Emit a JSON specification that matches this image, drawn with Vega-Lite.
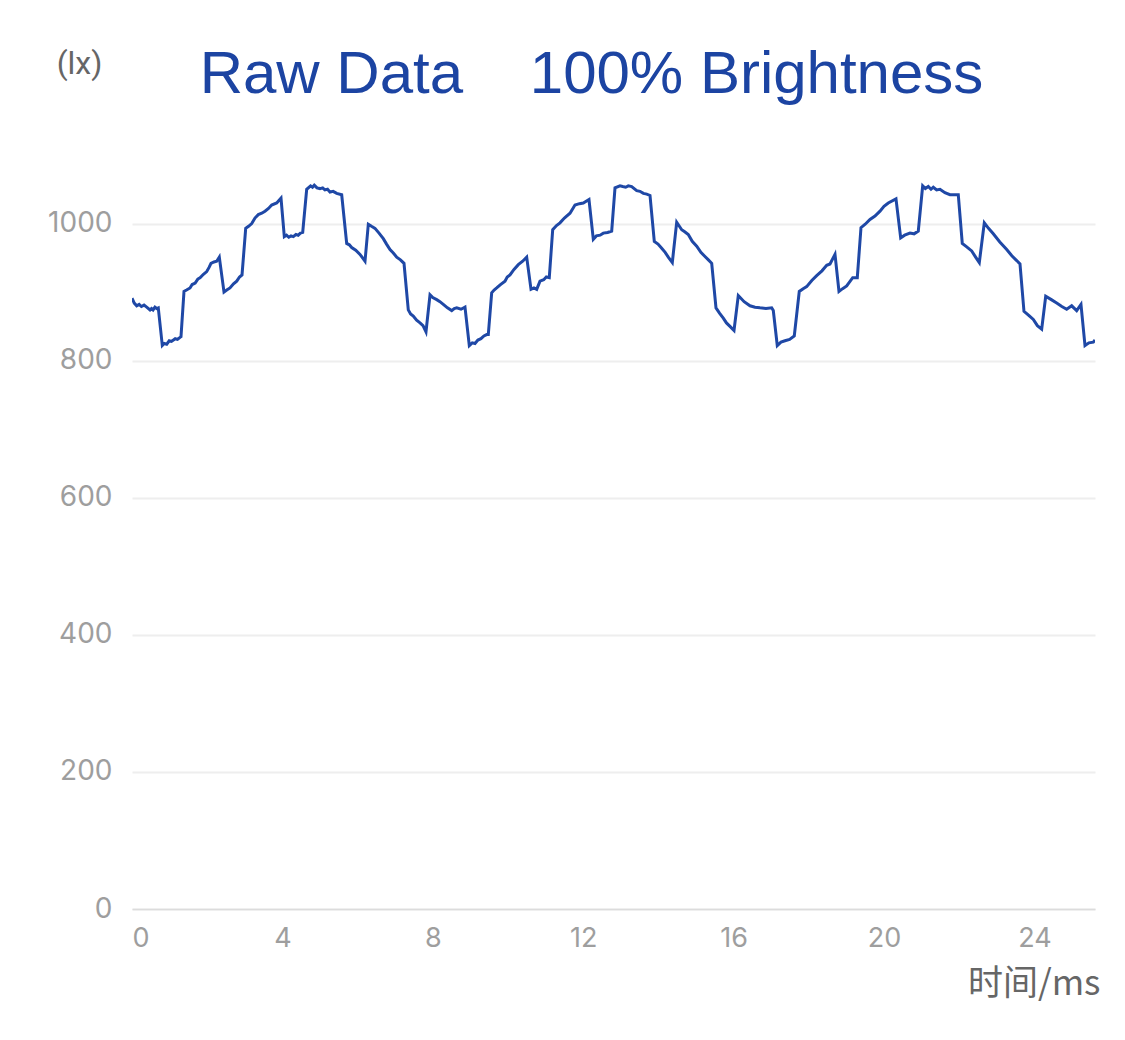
{
  "$schema": "https://vega.github.io/schema/vega-lite/v6.json",
  "autosize": {"type": "none"},
  "padding": {"left": 132, "top": 155, "right": 30, "bottom": 131},
  "width": 963,
  "height": 754,
  "background": "white",
  "title": {
    "text": "Raw Data\u00a0\u00a0\u00a0\u00a0100% Brightness",
    "font": "Liberation Sans",
    "fontSize": 60,
    "fontWeight": "normal",
    "color": "#1c44a2",
    "anchor": "middle",
    "frame": "group",
    "baseline": "alphabetic",
    "dx": -22,
    "offset": 0,
    "dy": 106
  },
  "data": {
    "values": [
      {"t": 0.000, "v": 891}, {"t": 0.06, "v": 884}, {"t": 0.125, "v": 880}, {"t": 0.19, "v": 882}, {"t": 0.25, "v": 879}, {"t": 0.32, "v": 881}, {"t": 0.391, "v": 878},
      {"t": 0.479, "v": 874}, {"t": 0.52, "v": 876}, {"t": 0.56, "v": 874}, {"t": 0.61, "v": 878}, {"t": 0.657, "v": 876}, {"t": 0.699, "v": 877},
      {"t": 0.806, "v": 822}, {"t": 0.86, "v": 825}, {"t": 0.923, "v": 824}, {"t": 0.99, "v": 829}, {"t": 1.05, "v": 828}, {"t": 1.15, "v": 832}, {"t": 1.21, "v": 831}, {"t": 1.277, "v": 834}, {"t": 1.303, "v": 835},
      {"t": 1.383, "v": 901}, {"t": 1.45, "v": 903}, {"t": 1.543, "v": 906}, {"t": 1.6, "v": 911}, {"t": 1.68, "v": 913}, {"t": 1.75, "v": 919}, {"t": 1.809, "v": 921}, {"t": 1.9, "v": 926}, {"t": 1.987, "v": 930},
      {"t": 2.05, "v": 936}, {"t": 2.101, "v": 942}, {"t": 2.18, "v": 944}, {"t": 2.253, "v": 945}, {"t": 2.322, "v": 951},
      {"t": 2.447, "v": 900}, {"t": 2.52, "v": 903}, {"t": 2.606, "v": 906}, {"t": 2.7, "v": 912}, {"t": 2.785, "v": 916}, {"t": 2.86, "v": 922}, {"t": 2.926, "v": 925},
      {"t": 3.024, "v": 993}, {"t": 3.1, "v": 996}, {"t": 3.184, "v": 1000}, {"t": 3.27, "v": 1008}, {"t": 3.359, "v": 1013}, {"t": 3.45, "v": 1015}, {"t": 3.537, "v": 1018},
      {"t": 3.63, "v": 1022}, {"t": 3.715, "v": 1027}, {"t": 3.848, "v": 1030}, {"t": 3.963, "v": 1037},
      {"t": 4.051, "v": 981}, {"t": 4.11, "v": 983}, {"t": 4.17, "v": 980}, {"t": 4.23, "v": 982}, {"t": 4.290, "v": 981}, {"t": 4.36, "v": 984}, {"t": 4.42, "v": 983}, {"t": 4.48, "v": 986}, {"t": 4.540, "v": 987},
      {"t": 4.646, "v": 1050}, {"t": 4.75, "v": 1055}, {"t": 4.8, "v": 1053}, {"t": 4.848, "v": 1056}, {"t": 4.92, "v": 1052}, {"t": 5.000, "v": 1051},
      {"t": 5.07, "v": 1052}, {"t": 5.13, "v": 1049}, {"t": 5.2, "v": 1050}, {"t": 5.266, "v": 1046}, {"t": 5.35, "v": 1047}, {"t": 5.444, "v": 1044}, {"t": 5.577, "v": 1042},
      {"t": 5.710, "v": 971}, {"t": 5.78, "v": 969}, {"t": 5.843, "v": 965}, {"t": 5.95, "v": 961}, {"t": 6.064, "v": 955}, {"t": 6.197, "v": 945},
      {"t": 6.285, "v": 999}, {"t": 6.37, "v": 996}, {"t": 6.463, "v": 993}, {"t": 6.57, "v": 986}, {"t": 6.684, "v": 978}, {"t": 6.77, "v": 970}, {"t": 6.862, "v": 962},
      {"t": 6.95, "v": 957}, {"t": 7.040, "v": 951}, {"t": 7.14, "v": 947}, {"t": 7.234, "v": 942},
      {"t": 7.348, "v": 874}, {"t": 7.41, "v": 868}, {"t": 7.481, "v": 865}, {"t": 7.57, "v": 859}, {"t": 7.660, "v": 855}, {"t": 7.74, "v": 851}, {"t": 7.819, "v": 842},
      {"t": 7.926, "v": 896}, {"t": 8.0, "v": 892}, {"t": 8.104, "v": 889}, {"t": 8.19, "v": 886}, {"t": 8.279, "v": 882}, {"t": 8.39, "v": 877}, {"t": 8.503, "v": 873},
      {"t": 8.57, "v": 876}, {"t": 8.636, "v": 877}, {"t": 8.75, "v": 875}, {"t": 8.856, "v": 878},
      {"t": 8.971, "v": 822}, {"t": 9.05, "v": 826}, {"t": 9.122, "v": 825}, {"t": 9.2, "v": 830}, {"t": 9.28, "v": 832}, {"t": 9.36, "v": 836}, {"t": 9.434, "v": 838}, {"t": 9.476, "v": 838},
      {"t": 9.566, "v": 899}, {"t": 9.63, "v": 903}, {"t": 9.699, "v": 906}, {"t": 9.8, "v": 911}, {"t": 9.920, "v": 916}, {"t": 9.98, "v": 922}, {"t": 10.053, "v": 925},
      {"t": 10.16, "v": 933}, {"t": 10.274, "v": 940}, {"t": 10.39, "v": 945}, {"t": 10.497, "v": 951},
      {"t": 10.612, "v": 904}, {"t": 10.69, "v": 906}, {"t": 10.763, "v": 904}, {"t": 10.851, "v": 916}, {"t": 10.95, "v": 918}, {"t": 11.02, "v": 922}, {"t": 11.098, "v": 921},
      {"t": 11.189, "v": 991}, {"t": 11.29, "v": 997}, {"t": 11.383, "v": 1001}, {"t": 11.5, "v": 1008}, {"t": 11.649, "v": 1015}, {"t": 11.782, "v": 1027},
      {"t": 11.9, "v": 1029}, {"t": 12.003, "v": 1030}, {"t": 12.154, "v": 1035},
      {"t": 12.269, "v": 977}, {"t": 12.35, "v": 982}, {"t": 12.45, "v": 983}, {"t": 12.535, "v": 986}, {"t": 12.65, "v": 987}, {"t": 12.758, "v": 989},
      {"t": 12.846, "v": 1052}, {"t": 12.979, "v": 1055}, {"t": 13.05, "v": 1054}, {"t": 13.13, "v": 1053}, {"t": 13.2, "v": 1055}, {"t": 13.290, "v": 1054},
      {"t": 13.423, "v": 1048}, {"t": 13.51, "v": 1047}, {"t": 13.6, "v": 1044}, {"t": 13.69, "v": 1043}, {"t": 13.777, "v": 1041},
      {"t": 13.891, "v": 974}, {"t": 13.99, "v": 970}, {"t": 14.088, "v": 964}, {"t": 14.18, "v": 958}, {"t": 14.263, "v": 951}, {"t": 14.370, "v": 943},
      {"t": 14.487, "v": 1002}, {"t": 14.620, "v": 991}, {"t": 14.7, "v": 988}, {"t": 14.795, "v": 984}, {"t": 14.9, "v": 974}, {"t": 15.019, "v": 967},
      {"t": 15.13, "v": 958}, {"t": 15.239, "v": 952}, {"t": 15.33, "v": 947}, {"t": 15.418, "v": 942},
      {"t": 15.532, "v": 877}, {"t": 15.63, "v": 869}, {"t": 15.726, "v": 862}, {"t": 15.81, "v": 855}, {"t": 15.904, "v": 850}, {"t": 16.011, "v": 844},
      {"t": 16.125, "v": 895}, {"t": 16.28, "v": 886}, {"t": 16.436, "v": 880}, {"t": 16.57, "v": 878}, {"t": 16.702, "v": 877}, {"t": 16.86, "v": 876}, {"t": 17.013, "v": 877}, {"t": 17.056, "v": 873},
      {"t": 17.162, "v": 822}, {"t": 17.26, "v": 827}, {"t": 17.367, "v": 829}, {"t": 17.49, "v": 831}, {"t": 17.614, "v": 836},
      {"t": 17.747, "v": 901}, {"t": 17.85, "v": 905}, {"t": 17.944, "v": 908}, {"t": 18.08, "v": 917}, {"t": 18.210, "v": 924}, {"t": 18.35, "v": 931}, {"t": 18.476, "v": 939},
      {"t": 18.564, "v": 941}, {"t": 18.697, "v": 955},
      {"t": 18.803, "v": 901}, {"t": 18.9, "v": 905}, {"t": 19.008, "v": 909}, {"t": 19.168, "v": 921}, {"t": 19.290, "v": 921},
      {"t": 19.388, "v": 994}, {"t": 19.5, "v": 999}, {"t": 19.628, "v": 1006}, {"t": 19.76, "v": 1011}, {"t": 19.894, "v": 1018}, {"t": 20.0, "v": 1025}, {"t": 20.114, "v": 1030}, {"t": 20.319, "v": 1036},
      {"t": 20.444, "v": 979}, {"t": 20.55, "v": 983}, {"t": 20.691, "v": 986}, {"t": 20.8, "v": 985}, {"t": 20.912, "v": 989},
      {"t": 21.029, "v": 1055}, {"t": 21.1, "v": 1051}, {"t": 21.178, "v": 1054}, {"t": 21.25, "v": 1050}, {"t": 21.311, "v": 1053}, {"t": 21.4, "v": 1049}, {"t": 21.489, "v": 1050},
      {"t": 21.62, "v": 1045}, {"t": 21.755, "v": 1042}, {"t": 21.976, "v": 1042},
      {"t": 22.082, "v": 971}, {"t": 22.2, "v": 966}, {"t": 22.332, "v": 960}, {"t": 22.45, "v": 950}, {"t": 22.535, "v": 943},
      {"t": 22.668, "v": 1001}, {"t": 22.78, "v": 993}, {"t": 22.907, "v": 985}, {"t": 23.08, "v": 973}, {"t": 23.264, "v": 962}, {"t": 23.4, "v": 953}, {"t": 23.529, "v": 946}, {"t": 23.617, "v": 941},
      {"t": 23.723, "v": 872}, {"t": 23.85, "v": 866}, {"t": 23.971, "v": 860}, {"t": 24.08, "v": 851}, {"t": 24.194, "v": 846},
      {"t": 24.301, "v": 894}, {"t": 24.45, "v": 889}, {"t": 24.593, "v": 884}, {"t": 24.73, "v": 879}, {"t": 24.859, "v": 875}, {"t": 24.992, "v": 880},
      {"t": 25.125, "v": 873}, {"t": 25.239, "v": 882},
      {"t": 25.346, "v": 822}, {"t": 25.45, "v": 826}, {"t": 25.566, "v": 827}, {"t": 25.612, "v": 830}
    ]
  },
  "mark": {"type": "line", "color": "#1f48a6", "strokeWidth": 3, "clip": true},
  "encoding": {
    "x": {
      "field": "t",
      "type": "quantitative",
      "scale": {"domain": [0, 25.612], "nice": false, "zero": false},
      "axis": {
        "values": [0, 4, 8, 12, 16, 20, 24],
        "labelFlush": true,
        "grid": false,
        "domain": true,
        "domainColor": "#dcdcdc",
        "domainWidth": 1.5,
        "ticks": false,
        "labelColor": "#9e9e9e",
        "labelFont": "Inter",
        "labelFontSize": 27,
        "labelPadding": 16,
        "title": "时间/ms",
        "titleFont": "Noto Sans CJK SC",
        "titleFontSize": 35,
        "titleFontWeight": "normal",
        "titleColor": "#666666",
        "titleAlign": "right",
        "titleAnchor": null,
        "titleBaseline": "alphabetic",
        "titleX": 968,
        "titleY": 85
      }
    },
    "y": {
      "field": "v",
      "type": "quantitative",
      "scale": {"domain": [0, 1100], "nice": false},
      "axis": {
        "values": [0, 200, 400, 600, 800, 1000],
        "format": "d",
        "grid": true,
        "gridColor": "#eeeeee",
        "gridWidth": 2,
        "domain": false,
        "ticks": false,
        "labelColor": "#9e9e9e",
        "labelFont": "Inter",
        "labelFontSize": 28,
        "labelPadding": 20,
        "title": "(lx)",
        "titleFont": "Roboto",
        "titleFontSize": 32,
        "titleFontWeight": "normal",
        "titleColor": "#666666",
        "titleAngle": 0,
        "titleAlign": "center",
        "titleBaseline": "alphabetic",
        "titleX": -53,
        "titleY": -82
      }
    }
  },
  "config": {"view": {"stroke": null}}
}
